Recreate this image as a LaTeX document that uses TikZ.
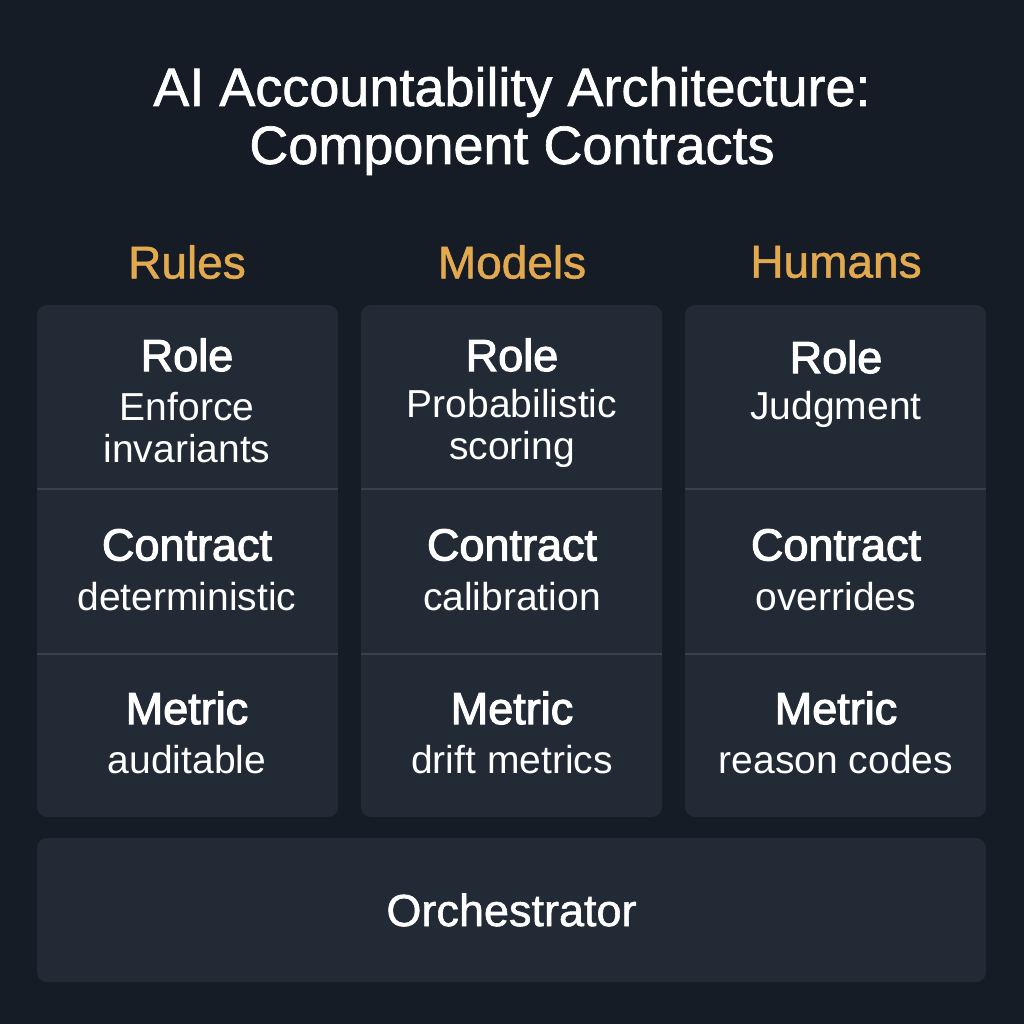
\documentclass[tikz,border=0pt]{standalone}
\usepackage{fontspec}
\setmainfont{Liberation Sans}
\newfontfamily\mediumfont[FakeBold=1.2]{Liberation Sans}
\newfontfamily\semifont[FakeBold=2.4]{Liberation Sans}
\usetikzlibrary{positioning}
\definecolor{bg_dark}{HTML}{151C25}
\definecolor{panel_fill}{HTML}{222A35}
\definecolor{divider_line}{HTML}{38414C}
\definecolor{gold_text}{HTML}{E2A94F}

\begin{document}
\begin{tikzpicture}
    [
        x=1pt, y=-1pt,
        title_text/.style={text=white, align=center, font=\mediumfont\fontsize{54}{58}\selectfont},
        head_text/.style={text=gold_text, font=\mediumfont\fontsize{46}{50}\selectfont},
        panel_box/.style={rectangle, fill=panel_fill, rounded corners=10pt, minimum width=301pt, minimum height=512pt, inner sep=0pt},
        base_box/.style={rectangle, fill=panel_fill, rounded corners=10pt, minimum width=949pt, minimum height=144pt, inner sep=0pt},
        key_text/.style={text=white, font=\semifont\fontsize{45}{50}\selectfont},
        value_text/.style={text=white, align=center, font=\fontsize{39}{42}\selectfont},
        divider/.style={draw=divider_line, line width=2pt},
    ]
        % background and frame
        \fill[bg_dark] (0,0) rectangle (1024,1024) ;
        \useasboundingbox (0,0) rectangle (1024,1024) ;

        \node[title_text] (title) at (512,121) {AI Accountability Architecture:\\Component Contracts} ;

        % column headers
        \node[head_text] (rules) at (187,262) {Rules} ;
        \node[head_text] (models) at (512,262) {Models} ;
        \node[head_text] (humans) at (836,262) {Humans} ;

        % column panels
        \node[panel_box] (rules_panel) at (187.5,561) {} ;
        \node[panel_box] (models_panel) at (511.5,561) {} ;
        \node[panel_box] (humans_panel) at (835.5,561) {} ;

        \foreach \p in {rules_panel, models_panel, humans_panel}
        {
            \draw[divider] ([yshift=-184pt]\p.north west) -- ([yshift=-184pt]\p.north east) ;
            \draw[divider] ([yshift=-349pt]\p.north west) -- ([yshift=-349pt]\p.north east) ;
        }

        % rules column
        \node[key_text] (rules_role) at (187,355) {Role} ;
        \node[value_text] (rules_role_val) at (187,428) {Enforce\\invariants} ;
        \node[key_text] (rules_contract) at (187,545) {Contract} ;
        \node[value_text] (rules_contract_val) at (187,597) {deterministic} ;
        \node[key_text] (rules_metric) at (187,708) {Metric} ;
        \node[value_text] (rules_metric_val) at (187,760) {auditable} ;

        % models column
        \node[key_text] (models_role) at (512,355) {Role} ;
        \node[value_text] (models_role_val) at (512,428) {Probabilistic\\scoring} ;
        \node[key_text] (models_contract) at (512,545) {Contract} ;
        \node[value_text] (models_contract_val) at (512,597) {calibration} ;
        \node[key_text] (models_metric) at (512,708) {Metric} ;
        \node[value_text] (models_metric_val) at (512,760) {drift metrics} ;

        % humans column
        \node[key_text] (humans_role) at (836,357) {Role} ;
        \node[value_text] (humans_role_val) at (836,409) {Judgment} ;
        \node[key_text] (humans_contract) at (836,545) {Contract} ;
        \node[value_text] (humans_contract_val) at (836,597) {overrides} ;
        \node[key_text] (humans_metric) at (836,708) {Metric} ;
        \node[value_text] (humans_metric_val) at (836,760) {reason codes} ;

        % orchestrator
        \node[base_box] (orch_box) at (511.5,910) {} ;
        \node[text=white, font=\mediumfont\fontsize{45}{50}\selectfont] (orch) at (orch_box.center) {Orchestrator} ;
    \end{tikzpicture}
\end{document}
